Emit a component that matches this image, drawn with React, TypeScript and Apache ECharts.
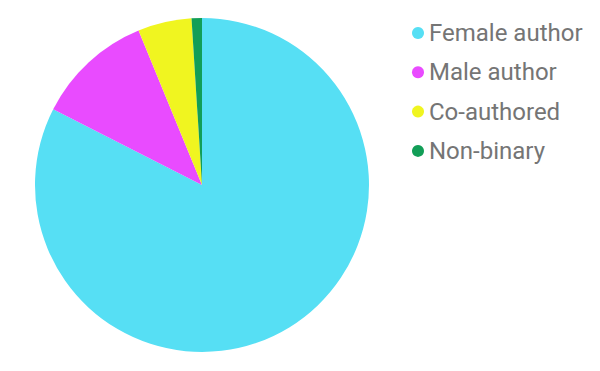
import React, { useEffect, useRef } from "react";
import * as echarts from "echarts";

const categories = ["Female author", "Male author", "Co-authored", "Non-binary"];
const values = [82.5, 11.3, 5.2, 1.0];
const colors = ["#56DFF4", "#E94BFF", "#F0F520", "#129E57"];

export default function App() {
  const ref = useRef<HTMLDivElement>(null);
  useEffect(() => {
    if (!ref.current) return;
    const chart = echarts.init(ref.current, undefined, { renderer: "svg" });
    chart.setOption({
      animation: false,
      color: colors,
      legend: {
        orient: "vertical",
        left: 407,
        top: 16,
        icon: "circle",
        itemWidth: 12,
        itemHeight: 12,
        itemGap: 15.3,
        itemTextGap: 9,
        textStyle: { fontFamily: "Roboto", fontSize: 24, color: "#757575" },
        data: categories,
      },
      series: [
        {
          type: "pie",
          center: [202, 185],
          radius: 167,
          startAngle: 90,
          clockwise: true,
          label: { show: false },
          labelLine: { show: false },
          emphasis: { disabled: true },
          data: categories.map((name, i) => ({ name, value: values[i] })),
        },
      ],
    });
    return () => chart.dispose();
  }, []);
  return (
    <div
      ref={ref}
      style={{ position: "fixed", left: 0, top: 0, width: 600, height: 371, background: "#fff" }}
    />
  );
}
